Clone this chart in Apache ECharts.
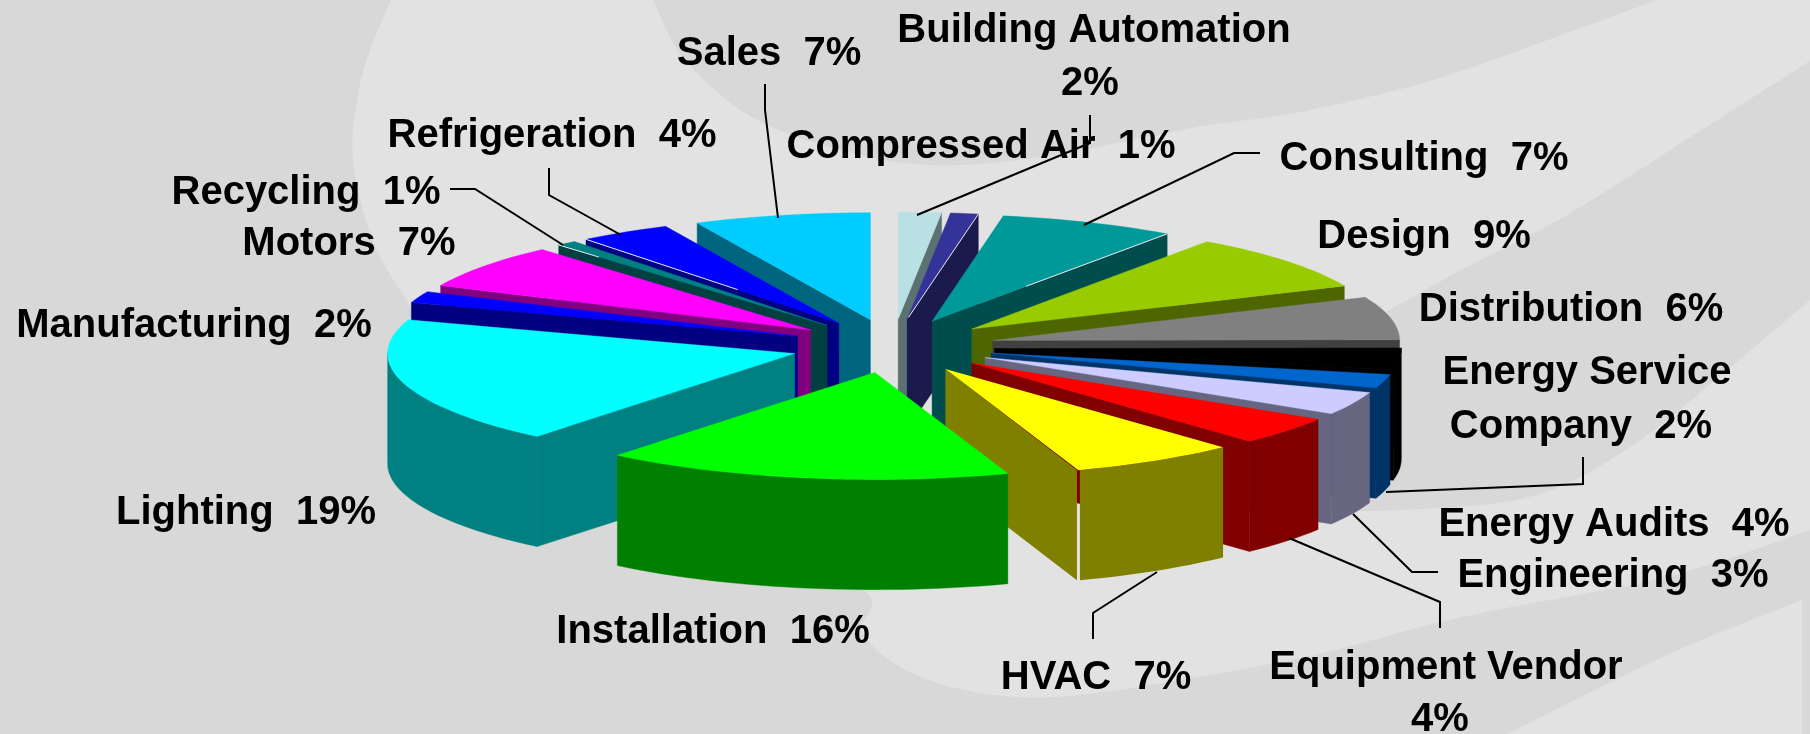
<!DOCTYPE html>
<html>
<head>
<meta charset="utf-8">
<style>html,body{margin:0;padding:0;background:#d8d8d8}#c{width:1810px;height:734px}</style>
<script src="https://cdn.jsdelivr.net/npm/echarts@6/dist/echarts.min.js"></script>
</head>
<body>
<div id="c"></div>
<script>
// ---- data (shares in percent; clockwise from 12 o'clock)
const categories = ['Building Automation','Compressed Air','Consulting','Design','Distribution','Energy Audits','Energy Service Company','Engineering','Equipment Vendor','HVAC','Installation','Lighting','Manufacturing','Motors','Recycling','Refrigeration','Sales'];
const shares     = [1.7,1.1,7.0,8.6,6.5,3.3,2.1,3.5,4.25,6.65,16.2,19.2,1.73,6.7,0.8,3.67,7.0];
const percentText= ['2%','1%','7%','9%','6%','4%','2%','3%','4%','7%','16%','19%','2%','7%','1%','4%','7%'];
const topColors  = ['#B9E1E4','#333399','#009999','#99CC00','#808080','#000000','#0066CC','#CCCCFF','#FF0000','#FFFF00','#00FF00','#00FFFF','#0000FF','#FF00FF','#008080','#0000FF','#00CCFF'];
const sideColors = ['#5C7172','#1A1A4D','#004D4D','#4D6600','#404040','#000000','#003366','#666680','#800000','#808000','#008000','#008080','#000080','#800080','#004040','#000080','#006680'];

// ---- layout
const EXPLODE = 0.251, DEPTH = 1.03;
const GRID = {left:485.7, top:239, width:814, height:214};
const BG_DARK = '#d8d8d8', BG_LIGHT = '#e2e2e2';
// thin pale edge lines on the top faces: [category index, edge (0 start, 1 end), from radius, to radius]
const paleEdges = [[1,1,0.02,1],[2,1,0.4,1],[15,0,0.4,1],[14,0,0.85,1]];
// the seam between the cut face and the outer wall stays open on these slices
const openSeams = [9];
// label lines: [category index, first-line text or '', centre x, centre y, append percent]
const labelBoxes = [
  [0,'Building Automation',1094,31,false],[0,'',1090,84,true],
  [1,'',981,147,true],[2,'',1424,159,true],[3,'',1424,237,true],[4,'',1571,310,true],
  [6,'Energy Service',1587,373,false],[6,'Company',1581,427,true],
  [5,'',1614,525,true],[7,'',1613,576,true],
  [8,'Equipment Vendor',1446,668,false],[8,'',1440,720,true],
  [9,'',1096,678,true],[10,'',713,632,true],[11,'',246,513,true],[12,'',194,326,true],
  [13,'',349,244,true],[14,'',306,193,true],[15,'',552,136,true],[16,'',769,54,true]
];
const leaders = [
  [[765,84],[765,110],[778,218]],
  [[1090,115],[1090,143],[917,215]],
  [[1260,153],[1234,153],[1084,225]],
  [[549,168],[549,195],[621,235]],
  [[450,189],[475,189],[563,245]],
  [[1583,457],[1583,484],[1386,492]],
  [[1438,572],[1412,572],[1353,514]],
  [[1440,628],[1440,602],[1289,538]],
  [[1093,639],[1093,613],[1157,572]]
];

function smooth(pts, closedTail){
  const out=[];
  for(let i=0;i<pts.length-1;i++){
    const p0=pts[Math.max(i-1,0)],p1=pts[i],p2=pts[i+1],p3=pts[Math.min(i+2,pts.length-1)];
    for(let k=0;k<12;k++){
      const t=k/12,t2=t*t,t3=t2*t;
      out.push([
        .5*(2*p1[0]+(p2[0]-p0[0])*t+(2*p0[0]-5*p1[0]+4*p2[0]-p3[0])*t2+(3*p1[0]-p0[0]-3*p2[0]+p3[0])*t3),
        .5*(2*p1[1]+(p2[1]-p0[1])*t+(2*p0[1]-5*p1[1]+4*p2[1]-p3[1])*t2+(3*p1[1]-p0[1]-3*p2[1]+p3[1])*t3)
      ]);
    }
  }
  out.push(pts[pts.length-1]);
  return out.concat(closedTail||[]);
}
const bgShapes = [
  [BG_LIGHT, smooth([[391,0],[370,50],[357,100],[353,160],[370,233],[402,293],[480,400],[700,540],[862,590],[862,633],[912,673],[995,695],[1095,693],[1300,658],[1462,617],[1666,577],[1810,530]],[[1810,0]])],
  [BG_DARK, smooth([[653,0],[685,60],[752,117],[841,150],[930,165],[1042,157],[1198,127],[1300,112],[1433,80],[1567,33],[1657,0]])],
  [BG_DARK, smooth([[1810,61],[1700,131],[1567,215],[1467,267],[1400,304],[1300,360]],[]).concat(smooth([[1300,510],[1400,510],[1533,496],[1633,445],[1733,365],[1810,300]]))],
  [BG_LIGHT, smooth([[1507,734],[1667,655],[1802,600]],[[1802,734]])]
];

// ---- slice angles derived from the shares
let acc = 0;
const total = shares.reduce((a,b)=>a+b,0);
const sliceData = shares.map((v,i)=>{
  const a0 = acc/total*360; acc += v; const a1 = acc/total*360;
  return [a0,a1,i];
}).sort((p,q)=>Math.cos((q[0]+q[1])/360*Math.PI)-Math.cos((p[0]+p[1])/360*Math.PI));

function renderSlice(params, api){
  const a0=api.value(0), a1=api.value(1), idx=api.value(2);
  const rad=d=>d*Math.PI/180;
  const mid=rad((a0+a1)/2);
  const ox=EXPLODE*Math.sin(mid), oy=EXPLODE*Math.cos(mid);
  const depth=api.size([0,DEPTH])[1];
  const P=(deg,r)=>api.coord([ox+r*Math.sin(rad(deg)), oy+r*Math.cos(rad(deg))]);
  const down=p=>[p[0],p[1]+depth];
  const apex=P(0,0);
  const steps=Math.max(3,Math.ceil((a1-a0)/2));
  const rim=[]; for(let i=0;i<=steps;i++) rim.push(P(a0+(a1-a0)*i/steps,1));
  const kids=[];
  const open=openSeams.indexOf(idx)>=0;
  const poly=(pts,fill)=>kids.push({type:'polygon',shape:{points:pts},style:{fill:fill,stroke:open?null:fill,lineWidth:.4},silent:true});
  if(Math.sin(rad(a0))<0) poly([apex,rim[0],down(rim[0]),down(apex)],sideColors[idx]);
  if(Math.sin(rad(a1))>0){
    const e=open?[rim[steps][0]-1.5,rim[steps][1]]:rim[steps];
    poly([apex,e,down(e),down(apex)],sideColors[idx]);
  }
  const wall=[];
  for(let i=0;i<=steps;i++){ const d=a0+(a1-a0)*i/steps; if(Math.cos(rad(d))<0.02) wall.push(rim[i]); }
  if(open) wall[wall.length-1]=[wall[wall.length-1][0]+1.5,wall[wall.length-1][1]];
  if(wall.length>1) poly(wall.concat(wall.map(down).reverse()),sideColors[idx]);
  poly([apex].concat(rim),topColors[idx]);
  paleEdges.filter(e=>e[0]===idx).forEach(e=>{
    const deg=e[1]?a1:a0, A=P(deg,e[2]), B=P(deg,e[3]);
    kids.push({type:'line',shape:{x1:A[0],y1:A[1],x2:B[0],y2:B[1]},style:{stroke:'#e8e8e8',lineWidth:1},silent:true});
  });
  return {type:'group',children:kids};
}

const FONT='bold 40px "Liberation Sans", Arial, sans-serif';
const graphics=[];
bgShapes.forEach(s=>graphics.push({type:'polygon',z:-10,silent:true,shape:{points:s[1]},style:{fill:s[0]}}));
labelBoxes.forEach(b=>{
  const txt=b[1]===''?(b[0]===0||b[0]===8?percentText[b[0]]:categories[b[0]]+'  '+percentText[b[0]]):(b[4]?b[1]+'  '+percentText[b[0]]:b[1]);
  graphics.push({type:'text',z:20,silent:true,x:b[2],y:b[3],style:{text:txt,font:FONT,fill:'#000',align:'center',verticalAlign:'middle'}});
});
leaders.forEach(l=>graphics.push({type:'polyline',z:15,silent:true,shape:{points:l},style:{stroke:'#000',lineWidth:2,fill:null}}));

const chart=echarts.init(document.getElementById('c'),null,{width:1810,height:734,renderer:'canvas'});
chart.setOption({
  animation:false,
  backgroundColor:BG_DARK,
  grid:GRID,
  xAxis:{type:'value',min:-1,max:1,show:false},
  yAxis:{type:'value',min:-1,max:1,show:false},
  graphic:graphics,
  series:[{type:'custom',coordinateSystem:'cartesian2d',clip:false,silent:true,z:5,
    encode:{x:0,y:1},renderItem:renderSlice,data:sliceData}]
});
</script>
</body>
</html>
